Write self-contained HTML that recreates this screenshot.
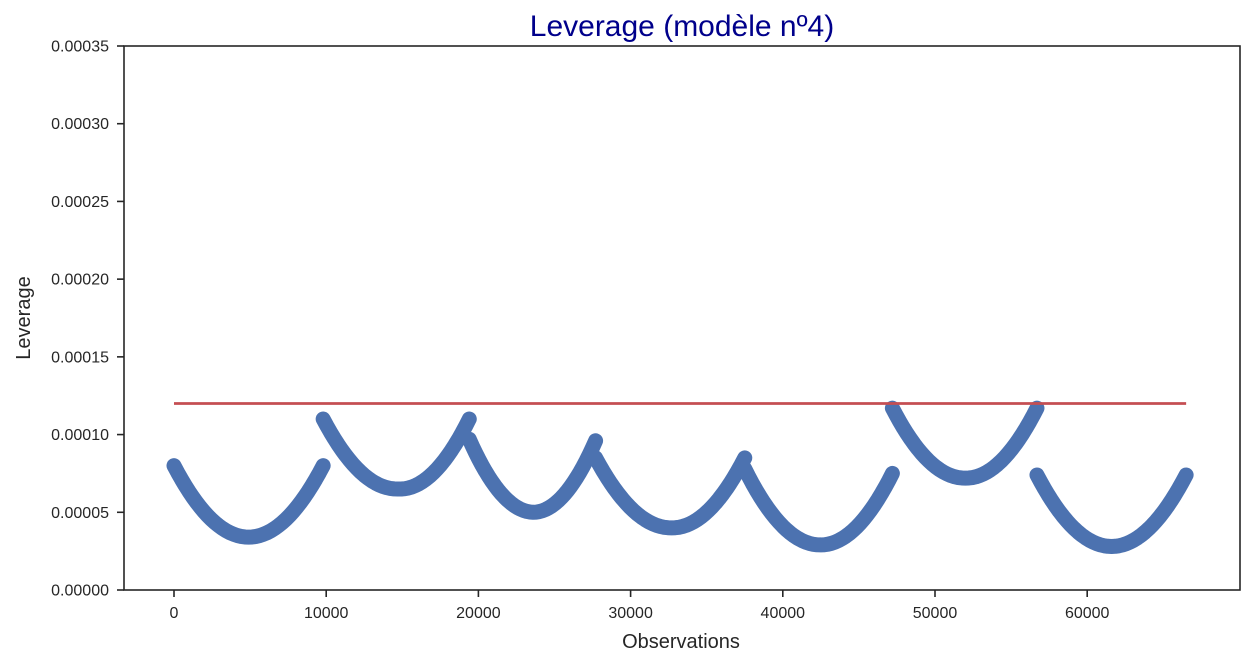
<!DOCTYPE html>
<html><head><meta charset="utf-8"><style>
html,body{margin:0;padding:0;background:#fff;}
svg{display:block;font-family:"Liberation Sans",sans-serif;}
</style></head><body>
<svg id="chart" width="1251" height="665" viewBox="0 0 1251 665">
<text x="682" y="36" text-anchor="middle" font-size="30" fill="#00008b">Leverage (modèle nº4)</text>
<g id="marks"></g>
<rect x="124" y="46" width="1116" height="544" fill="none" stroke="#262626" stroke-width="1.6"/>
<g id="axes"></g>
<text x="681" y="648" text-anchor="middle" font-size="20" fill="#262626">Observations</text>
<text transform="translate(30,318) rotate(-90)" text-anchor="middle" font-size="20" fill="#262626">Leverage</text>
</svg>
<script>
const xTicks = [0,10000,20000,30000,40000,50000,60000];
const yTicks = [0,0.00005,0.0001,0.00015,0.0002,0.00025,0.0003,0.00035];
const yTickLabels = ["0.00000","0.00005","0.00010","0.00015","0.00020","0.00025","0.00030","0.00035"];
const threshold = 0.00012;
const thresholdRange = [0, 66500];
const segX = [
 [0,2450,4900,7350,9800],
 [9800,12250,14700,17100,19400],
 [19400,21500,23600,25650,27700],
 [27700,30200,32700,35100,37500],
 [37500,40000,42500,44850,47200],
 [47200,49600,52000,54350,56700],
 [56700,59150,61600,64050,66500]
];
const segY = [
 [8.0e-5,4.55e-5,3.4e-5,4.55e-5,8.0e-5],
 [11.0e-5,7.6e-5,6.5e-5,7.6e-5,11.0e-5],
 [9.7e-5,6.2e-5,5.0e-5,6.15e-5,9.6e-5],
 [8.5e-5,5.1e-5,4.0e-5,5.1e-5,8.5e-5],
 [7.8e-5,4.1e-5,2.9e-5,4.05e-5,7.5e-5],
 [11.7e-5,8.3e-5,7.2e-5,8.3e-5,11.7e-5],
 [7.4e-5,3.95e-5,2.8e-5,3.95e-5,7.4e-5]
];
const NS="http://www.w3.org/2000/svg";
const sx = v => 174 + v*0.01522;
const sy = v => 590 - v/0.00035*544;
const axes=document.getElementById('axes'), marks=document.getElementById('marks');
function mk(t,a,p){const e=document.createElementNS(NS,t);for(const k in a)e.setAttribute(k,a[k]);p.appendChild(e);return e;}
xTicks.forEach(v=>{
 const l=mk('line',{x1:sx(v),x2:sx(v),y1:590,y2:597,stroke:'#262626','stroke-width':1.6},axes);
 
 
 const t=mk('text',{x:sx(v),y:618,'text-anchor':'middle','font-size':16,fill:'#262626'},axes);
 t.textContent=v;
 
 
});
yTicks.forEach((v,i)=>{
 const l=mk('line',{x1:117,x2:124,y1:sy(v),y2:sy(v),stroke:'#262626','stroke-width':1.6},axes);
 
 
 const t=mk('text',{x:109,y:sy(v)+5.5,'text-anchor':'end','font-size':16,fill:'#262626'},axes);
 t.textContent=yTickLabels[i];
 
 
});
function lag(xs,ys,x){
 let r=0;
 for(let i=0;i<3;i++){let t=ys[i];for(let j=0;j<3;j++){if(j!==i)t*=(x-xs[j])/(xs[i]-xs[j]);}r+=t;}
 return r;
}
segX.forEach((xs,s)=>{
 const ys=segY[s];
 let d='';
 [[0,1,2],[2,3,4]].forEach((idx,k)=>{
  const px=idx.map(i=>xs[i]), py=idx.map(i=>ys[i]);
  for(let n=0;n<=20;n++){
   const x=px[0]+(px[2]-px[0])*n/20;
   const y=lag(px,py,x);
   d+=(d===''?'M':'L')+sx(x).toFixed(2)+','+sy(y).toFixed(2)+' ';
  }
 });
 const e=mk('path',{d:d,fill:'none',stroke:'#4c72b0','stroke-width':15,'stroke-linecap':'round','stroke-linejoin':'round'},marks);
 
 
});
const th=mk('line',{x1:sx(thresholdRange[0]),x2:sx(thresholdRange[1]),y1:sy(threshold),y2:sy(threshold),stroke:'#c44e52','stroke-width':2.8},marks);


</script>
</body></html>
